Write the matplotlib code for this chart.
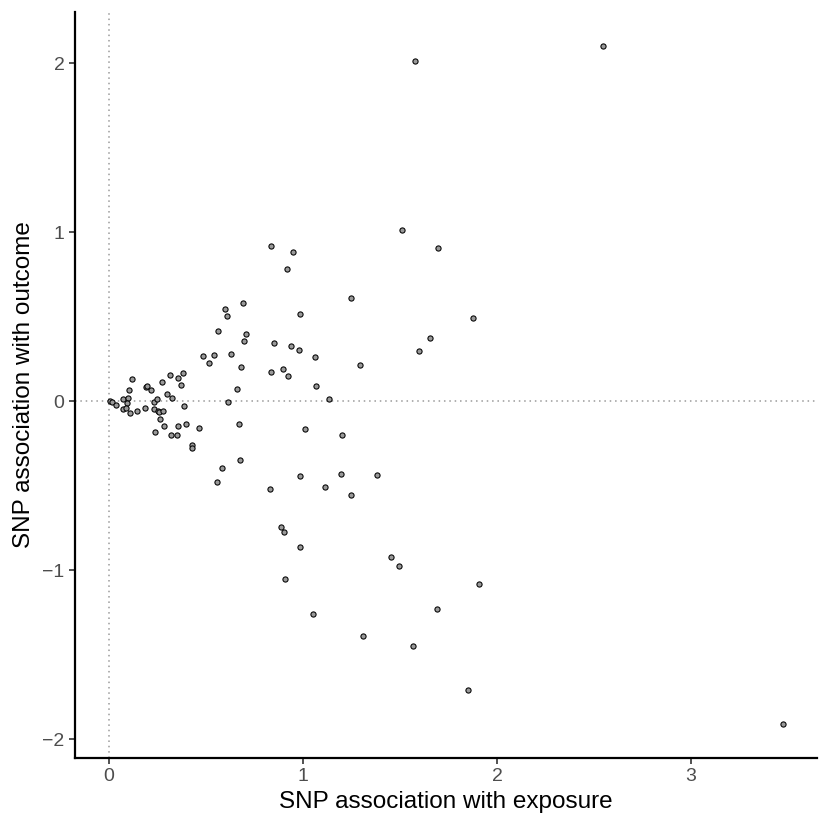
"""
	Scatter of SNP association with exposure vs outcome,
		drawn in the style of ggplot2 theme_classic.
"""

import matplotlib
matplotlib.use("Agg")
import matplotlib.pyplot as plt


# SNP association with exposure (x) and with outcome (y)
beta_exposure = [
	0.007, 0.019, 0.038, 0.074, 0.099, 0.093, 0.074, 0.089, 0.108, 0.105,
	0.119, 0.144, 0.187, 0.191, 0.199, 0.216, 0.233, 0.247, 0.232, 0.256,
	0.259, 0.281, 0.263, 0.287, 0.239, 0.273, 0.299, 0.314, 0.326, 0.356,
	0.381, 0.373, 0.386, 0.321, 0.352, 0.356, 0.397, 0.464, 0.431, 0.429,
	0.486, 0.515, 0.543, 0.563, 0.601, 0.611, 0.690, 0.709, 0.696, 0.630,
	0.680, 0.661, 0.616, 0.670, 0.675, 0.584, 0.556, 0.838, 0.950, 0.920,
	0.987, 1.247, 0.852, 0.939, 0.982, 1.061, 1.293, 0.835, 0.898, 0.922,
	1.070, 1.133, 1.011, 1.204, 0.986, 0.830, 1.113, 1.197, 1.248, 1.382,
	0.888, 0.903, 0.986, 0.908, 1.054, 1.309, 1.456, 1.497, 1.693, 1.566,
	1.851, 1.909, 1.510, 1.698, 1.877, 1.657, 1.597, 1.578, 2.545, 3.474,
]
beta_outcome = [
	0.000, -0.008, -0.025, 0.012, 0.020, -0.014, -0.049, -0.040, -0.069, 0.063,
	0.130, -0.059, -0.040, 0.081, 0.089, 0.065, -0.008, 0.014, -0.047, -0.057,
	-0.063, -0.059, -0.107, -0.146, -0.183, 0.114, 0.041, 0.152, 0.020, 0.138,
	0.168, 0.095, -0.030, -0.203, -0.201, -0.148, -0.136, -0.158, -0.260, -0.276,
	0.266, 0.223, 0.274, 0.412, 0.543, 0.503, 0.582, 0.398, 0.355, 0.280,
	0.203, 0.073, -0.004, -0.134, -0.349, -0.395, -0.478, 0.919, 0.883, 0.783,
	0.515, 0.611, 0.345, 0.325, 0.302, 0.262, 0.211, 0.172, 0.191, 0.148,
	0.087, 0.012, -0.164, -0.203, -0.446, -0.519, -0.511, -0.430, -0.554, -0.436,
	-0.746, -0.773, -0.864, -1.055, -1.260, -1.391, -0.921, -0.976, -1.233, -1.450,
	-1.710, -1.081, 1.012, 0.904, 0.489, 0.375, 0.298, 2.012, 2.099, -1.911,
]

x_ticks = [0, 1, 2, 3]
y_ticks = [-2, -1, 0, 1, 2]

plt.rcParams["font.family"] = ["Liberation Sans", "DejaVu Sans"]

fig = plt.figure(figsize=(8.3, 8.3), dpi=100)
ax = fig.add_axes([0.0904, 0.0867, 0.8939, 0.8988])

# dotted reference lines through the origin
ax.axhline(0, color="#9a9a9a", linestyle=(0, (1, 2.5)), linewidth=1.1, zorder=1)
ax.axvline(0, color="#9a9a9a", linestyle=(0, (1, 2.5)), linewidth=1.1, zorder=1)

ax.scatter(beta_exposure, beta_outcome, s=14, facecolor="#999999",
		edgecolor="black", linewidth=0.75, zorder=3)

ax.set_xlim(-0.174, 3.649)
ax.set_ylim(-2.112, 2.302)
ax.set_xticks(x_ticks)
ax.set_yticks(y_ticks)
ax.set_yticklabels(["\u22122", "\u22121", "0", "1", "2"])

ax.set_xlabel("SNP association with exposure", fontsize=17.5, labelpad=4)
ax.set_ylabel("SNP association with outcome", fontsize=17.5, labelpad=5)

# theme_classic look
for side in ["top", "right"]:
	ax.spines[side].set_visible(False)
for side in ["left", "bottom"]:
	ax.spines[side].set_linewidth(1.6)
	ax.spines[side].set_color("black")
ax.tick_params(axis="both", length=4.5, width=1.2, color="#333333",
		pad=3, labelsize=14, labelcolor="#4d4d4d")

fig.savefig("out.png", dpi=100)
